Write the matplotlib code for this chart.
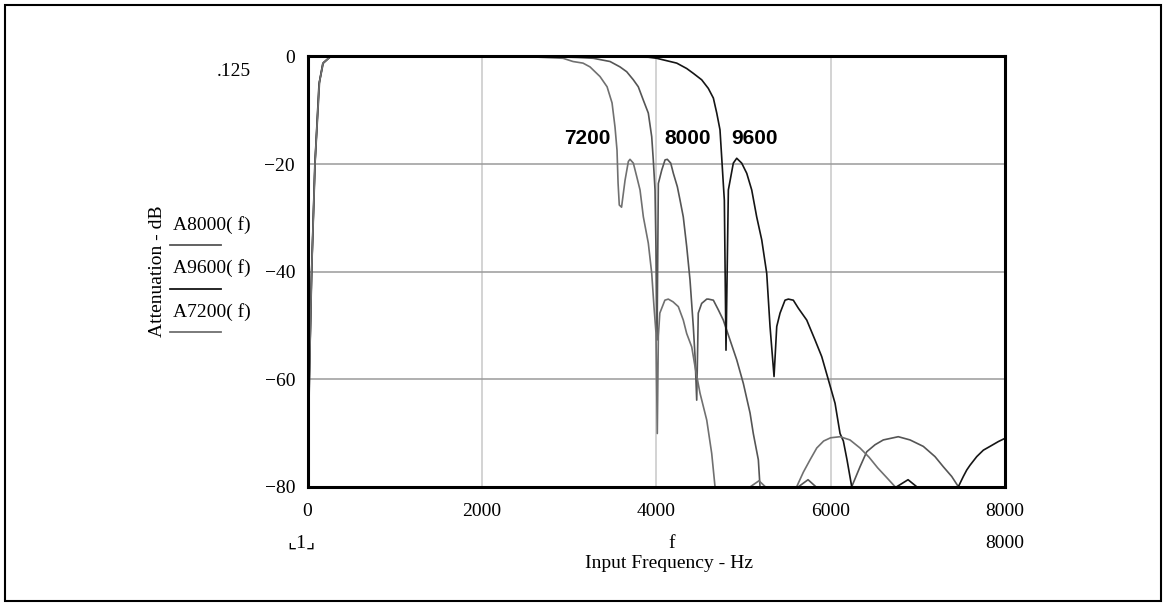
import numpy as np
import matplotlib
matplotlib.use("Agg")
import matplotlib.pyplot as plt
from matplotlib.patches import Rectangle
from matplotlib.lines import Line2D

W, H = 1169, 606

# (frequency Hz, attenuation dB); values under -80 fall off the plot
A7200 = [(1, -85), (21, -60), (48, -39.7), (86, -19.8), (135, -4.9), (178, -1.2), (258, -0.06),
         (400, 0), (1000, 0), (2000, -0.02), (2587, -0.05), (2931, -0.3), (3045, -0.9), (3160, -1.2),
         (3240, -1.9), (3355, -3.7), (3436, -5.6), (3493, -8.6), (3527, -13.1), (3550, -17.4),
         (3562, -23.5), (3576, -27.6), (3602, -28), (3642, -23), (3680, -19.5), (3699, -19.1),
         (3737, -19.8), (3776, -22.3), (3814, -24.8), (3852, -29.8), (3909, -34.7), (3948, -40.3),
         (3974, -46.5), (3997, -51.4), (4012, -70.1), (4024, -52), (4041, -47.7), (4099, -45.3),
         (4138, -45.1), (4192, -45.6), (4253, -46.5), (4310, -49), (4349, -51.5), (4407, -54),
         (4445, -57.7), (4502, -62.6), (4579, -67.6), (4636, -73.8), (4674, -80), (4709, -85),
         (4961, -90), (5053, -80.3), (5178, -78.9), (5270, -80.3), (5362, -90), (5560, -90),
         (5611, -80), (5687, -77.3), (5764, -75), (5841, -72.8), (5920, -71.5), (6000, -70.9),
         (6108, -70.7), (6222, -71.3), (6337, -72.8), (6440, -74.5), (6540, -76.5), (6643, -78.3),
         (6739, -80), (6800, -90), (8000, -90)]

A8000 = [(1, -85), (22, -59.5), (50, -39), (88, -19.5), (138, -4.7), (182, -1.1), (262, -0.05),
         (400, 0), (1000, 0), (2000, -0.01), (2900, -0.05), (3100, -0.15), (3278, -0.3), (3470, -0.9),
         (3584, -1.9), (3661, -2.8), (3737, -4.3), (3794, -5.6), (3852, -8.1), (3909, -10.5),
         (3948, -14.9), (3966, -19.2), (3986, -24.8), (3997, -35.9), (4009, -52.7), (4024, -23.6),
         (4063, -21.1), (4101, -19.2), (4127, -19.1), (4166, -19.8), (4196, -21.7), (4242, -24.2),
         (4273, -26.7), (4310, -29.8), (4349, -35.3), (4387, -41.5), (4425, -50.2), (4445, -55.8),
         (4464, -63.9), (4482, -47.7), (4521, -45.9), (4579, -45.1), (4597, -45.1), (4655, -45.3),
         (4712, -47.1), (4769, -49), (4846, -52.7), (4923, -56.4), (4999, -60.8), (5076, -66.3),
         (5113, -70.1), (5171, -75), (5190, -80), (5213, -88), (5500, -92), (5615, -80.2),
         (5741, -78.7), (5844, -80.2), (5950, -92), (6150, -92), (6242, -80), (6337, -76.3),
         (6414, -73.5), (6509, -72.2), (6604, -71.3), (6776, -70.7), (6911, -71.3), (7063, -72.5),
         (7197, -74.4), (7293, -76.3), (7389, -78.1), (7465, -80), (7520, -90), (8000, -90)]

A9600 = [(1, -85), (20, -60.5), (46, -40.5), (84, -20.2), (132, -5.1), (175, -1.3), (255, -0.07),
         (400, 0), (1000, 0), (2000, 0), (3400, -0.05), (3909, -0.1), (4005, -0.3), (4120, -0.75),
         (4235, -1.2), (4349, -2.2), (4425, -3.1), (4521, -4.3), (4597, -5.9), (4655, -7.7),
         (4694, -10.5), (4731, -13.6), (4751, -18.8), (4769, -23.6), (4781, -26.7), (4800, -54.6),
         (4827, -24.8), (4884, -19.8), (4923, -18.9), (4980, -19.8), (5038, -21.7), (5095, -24.8),
         (5152, -29.8), (5210, -34.1), (5267, -40.3), (5305, -50.2), (5351, -59.5), (5382, -50.2),
         (5420, -47.7), (5477, -45.3), (5515, -45.1), (5572, -45.3), (5630, -46.8), (5726, -49),
         (5821, -52.7), (5898, -55.8), (5974, -60.1), (6051, -64.5), (6108, -70.1), (6146, -71.5),
         (6188, -75), (6242, -80), (6270, -88), (6600, -92), (6739, -80.2), (6888, -78.7),
         (7002, -80.2), (7150, -92), (7400, -92), (7465, -80), (7522, -78.1), (7561, -76.9),
         (7599, -76), (7676, -74.4), (7752, -73.2), (7828, -72.5), (7924, -71.6), (8000, -71)]

x_ticks = [0, 2000, 4000, 6000, 8000]
y_ticks = [0, -20, -40, -60, -80]
y_tick_labels = ["0", "\u221220", "\u221240", "\u221260", "\u221280"]

curves = [("A8000( f)", A8000, "#555555", "8000"),
          ("A9600( f)", A9600, "#151515", "9600"),
          ("A7200( f)", A7200, "#707070", "7200")]

SERIF = ["Liberation Serif", "DejaVu Sans", "Noto Sans CJK JP"]

fig = plt.figure(figsize=(W / 100, H / 100), dpi=100)
ax = fig.add_axes([307.5 / W, 1 - 486.7 / H, 697.5 / W, 430.7 / H])

for name, pts, col, lab in curves:
    f, a = np.array(pts).T
    ax.plot(f, a, color=col, lw=1.2, zorder=3)

ax.set_xlim(0, 8000)
ax.set_ylim(-80, 0.125)
ax.set_xticks(x_ticks)
ax.set_xticklabels([str(t) for t in x_ticks], family=SERIF, fontsize=14)
ax.set_yticks(y_ticks)
ax.set_yticklabels(y_tick_labels, family=SERIF, fontsize=14)
ax.tick_params(length=0)
ax.tick_params(axis="x", pad=12)
ax.tick_params(axis="y", pad=9)
ax.xaxis.grid(True, color="#c8c8c8", lw=1.1)
ax.yaxis.grid(True, color="#9a9a9a", lw=1.1)
ax.set_axisbelow(True)
for s in ax.spines.values():
    s.set_linewidth(2.2)
    s.set_color("black")
    s.set_zorder(5)

# curve labels
for px, lab in [(587, "7200"), (688, "8000"), (755, "9600")]:
    fig.text(px / W, 1 - 138 / H, lab, ha="center", va="center",
             family="Liberation Sans", fontweight="bold", fontsize=15)

# legend block, left of the plot
for i, (name, pts, col, lab) in enumerate(curves):
    ty = 225 + i * 43.5
    fig.text(173 / W, 1 - ty / H, name, ha="left", va="center", family=SERIF, fontsize=14)
    fig.add_artist(Line2D([170 / W, 221 / W], [1 - (ty + 20) / H] * 2, color=col, lw=1.3))

fig.text(157 / W, 1 - 271 / H, "Attenuation - dB", rotation=90, ha="center", va="center",
         family=SERIF, fontsize=14)
fig.text(234 / W, 1 - 72 / H, ".125", ha="center", va="center", family=SERIF, fontsize=14)
fig.text(301 / W, 1 - 543 / H, "\u231e1\u231f", ha="center", va="center",
         family=SERIF, fontsize=14)
fig.text(672 / W, 1 - 543 / H, "f", ha="center", va="center", family=SERIF, fontsize=14)
fig.text(1005 / W, 1 - 543 / H, "8000", ha="center", va="center", family=SERIF, fontsize=14)
fig.text(669 / W, 1 - 563 / H, "Input Frequency - Hz", ha="center", va="center",
         family=SERIF, fontsize=14)

fig.add_artist(Rectangle((5 / W, 5 / H), 1156 / W, 596 / H, fill=False,
                         edgecolor="black", lw=1.5, transform=fig.transFigure))

fig.savefig("out.png", dpi=100)
